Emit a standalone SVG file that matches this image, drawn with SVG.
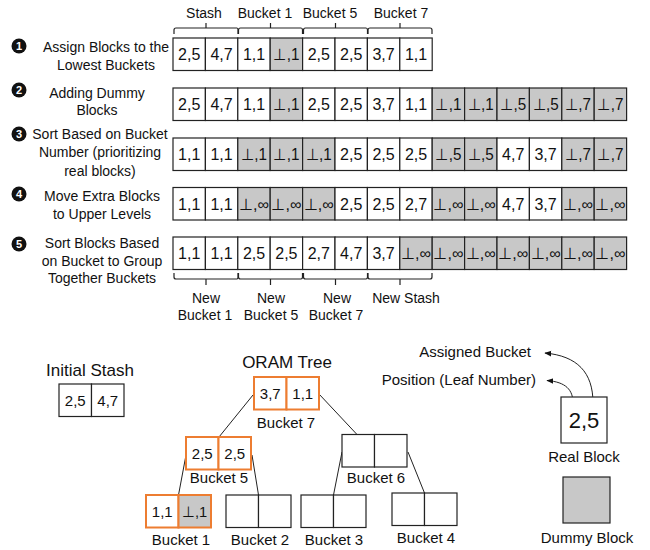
<svg xmlns="http://www.w3.org/2000/svg" width="650" height="550" viewBox="0 0 650 550">
<defs>
<style>
text{font-family:"Liberation Sans",Arial,sans-serif;fill:#111}
.c{fill:#fff;stroke:#222;stroke-width:1.2}
.g{fill:#c8c8c8;stroke:#222;stroke-width:1.2}
.o{fill:#fff;stroke:#ed7d31;stroke-width:2}
.og{fill:#c8c8c8;stroke:#ed7d31;stroke-width:2}
.t{font-size:16px;text-anchor:middle}
.tt{font-size:15px;text-anchor:middle}
.lbl{font-size:14px;text-anchor:middle}
.lb15{font-size:15px;text-anchor:middle}
.br{fill:none;stroke:#222;stroke-width:1.2}
.edge{fill:none;stroke:#222;stroke-width:1}
.num{font-size:11px;font-weight:bold;fill:#fff;text-anchor:middle}
</style>
<marker id="ah" viewBox="0 0 10 10" refX="9" refY="5" markerWidth="7" markerHeight="7" orient="auto" markerUnits="userSpaceOnUse">
<path d="M0,1 L10,5 L0,9 Z" fill="#111"/>
</marker>
</defs>

<!-- top labels and braces -->
<g id="top-braces">
<text class="lbl" x="204" y="18">Stash</text>
<text class="lbl" x="265" y="18">Bucket 1</text>
<text class="lbl" x="330" y="18">Bucket 5</text>
<text class="lbl" x="401" y="18">Bucket 7</text>
<path class="br" d="M174 34V30Q174 28 176 28H237Q238 28 238 30V34M206 28V23"/>
<path class="br" d="M238.5 34V30Q238.5 28 240.5 28H301Q302.5 28 302.5 30V34M270.5 28V23"/>
<path class="br" d="M303.5 34V30Q303.5 28 305.5 28H366Q367.5 28 367.5 30V34M335.5 28V23"/>
<path class="br" d="M368 34V30Q368 28 370 28H430Q432 28 432 30V34M400 28V23"/>
</g>

<!-- step labels -->
<g id="steps">
<circle cx="19" cy="46" r="7.5" fill="#111"/><text class="num" x="19" y="50">1</text>
<text class="lbl" x="106" y="52">Assign Blocks to the</text>
<text class="lbl" x="106" y="70">Lowest Buckets</text>
<circle cx="19" cy="90" r="7.5" fill="#111"/><text class="num" x="19" y="94">2</text>
<text class="lbl" x="97" y="98">Adding Dummy</text>
<text class="lbl" x="97" y="115">Blocks</text>
<circle cx="19" cy="134" r="7.5" fill="#111"/><text class="num" x="19" y="138">3</text>
<text class="lbl" x="100" y="138.5">Sort Based on Bucket</text>
<text class="lbl" x="100" y="157">Number (prioritizing</text>
<text class="lbl" x="100" y="175.5">real blocks)</text>
<circle cx="19" cy="194" r="7.5" fill="#111"/><text class="num" x="19" y="198">4</text>
<text class="lbl" x="102" y="201">Move Extra Blocks</text>
<text class="lbl" x="102" y="219">to Upper Levels</text>
<circle cx="19" cy="244" r="7.5" fill="#111"/><text class="num" x="19" y="248">5</text>
<text class="lbl" x="102" y="248">Sort Blocks Based</text>
<text class="lbl" x="102" y="265.5">on Bucket to Group</text>
<text class="lbl" x="102" y="283">Together Buckets</text>
</g>

<!-- row 1 -->
<g id="row1">
<rect class="c" x="173" y="38" width="32.4" height="32.5"/><text class="t" x="189.2" y="60">2,5</text>
<rect class="c" x="205.4" y="38" width="32.4" height="32.5"/><text class="t" x="221.6" y="60">4,7</text>
<rect class="c" x="237.8" y="38" width="32.4" height="32.5"/><text class="t" x="254" y="60">1,1</text>
<rect class="g" x="270.2" y="38" width="32.4" height="32.5"/><text class="t" x="286.4" y="60" textLength="26" lengthAdjust="spacingAndGlyphs">⊥,1</text>
<rect class="c" x="302.6" y="38" width="32.4" height="32.5"/><text class="t" x="318.8" y="60">2,5</text>
<rect class="c" x="335" y="38" width="32.4" height="32.5"/><text class="t" x="351.2" y="60">2,5</text>
<rect class="c" x="367.4" y="38" width="32.4" height="32.5"/><text class="t" x="383.6" y="60">3,7</text>
<rect class="c" x="399.8" y="38" width="32.4" height="32.5"/><text class="t" x="416" y="60">1,1</text>
</g>

<!-- row 2 -->
<g id="row2">
<rect class="c" x="173" y="88" width="32.4" height="32.5"/><text class="t" x="189.2" y="110">2,5</text>
<rect class="c" x="205.4" y="88" width="32.4" height="32.5"/><text class="t" x="221.6" y="110">4,7</text>
<rect class="c" x="237.8" y="88" width="32.4" height="32.5"/><text class="t" x="254" y="110">1,1</text>
<rect class="g" x="270.2" y="88" width="32.4" height="32.5"/><text class="t" x="286.4" y="110" textLength="26" lengthAdjust="spacingAndGlyphs">⊥,1</text>
<rect class="c" x="302.6" y="88" width="32.4" height="32.5"/><text class="t" x="318.8" y="110">2,5</text>
<rect class="c" x="335" y="88" width="32.4" height="32.5"/><text class="t" x="351.2" y="110">2,5</text>
<rect class="c" x="367.4" y="88" width="32.4" height="32.5"/><text class="t" x="383.6" y="110">3,7</text>
<rect class="c" x="399.8" y="88" width="32.4" height="32.5"/><text class="t" x="416" y="110">1,1</text>
<rect class="g" x="432.2" y="88" width="32.4" height="32.5"/><text class="t" x="448.4" y="110" textLength="26" lengthAdjust="spacingAndGlyphs">⊥,1</text>
<rect class="g" x="464.6" y="88" width="32.4" height="32.5"/><text class="t" x="480.8" y="110" textLength="26" lengthAdjust="spacingAndGlyphs">⊥,1</text>
<rect class="g" x="497" y="88" width="32.4" height="32.5"/><text class="t" x="513.2" y="110" textLength="26" lengthAdjust="spacingAndGlyphs">⊥,5</text>
<rect class="g" x="529.4" y="88" width="32.4" height="32.5"/><text class="t" x="545.6" y="110" textLength="26" lengthAdjust="spacingAndGlyphs">⊥,5</text>
<rect class="g" x="561.8" y="88" width="32.4" height="32.5"/><text class="t" x="578" y="110" textLength="26" lengthAdjust="spacingAndGlyphs">⊥,7</text>
<rect class="g" x="594.2" y="88" width="32.4" height="32.5"/><text class="t" x="610.4" y="110" textLength="26" lengthAdjust="spacingAndGlyphs">⊥,7</text>
</g>

<!-- row 3 -->
<g id="row3">
<rect class="c" x="173" y="138" width="32.4" height="32.5"/><text class="t" x="189.2" y="160">1,1</text>
<rect class="c" x="205.4" y="138" width="32.4" height="32.5"/><text class="t" x="221.6" y="160">1,1</text>
<rect class="g" x="237.8" y="138" width="32.4" height="32.5"/><text class="t" x="254" y="160" textLength="26" lengthAdjust="spacingAndGlyphs">⊥,1</text>
<rect class="g" x="270.2" y="138" width="32.4" height="32.5"/><text class="t" x="286.4" y="160" textLength="26" lengthAdjust="spacingAndGlyphs">⊥,1</text>
<rect class="g" x="302.6" y="138" width="32.4" height="32.5"/><text class="t" x="318.8" y="160" textLength="26" lengthAdjust="spacingAndGlyphs">⊥,1</text>
<rect class="c" x="335" y="138" width="32.4" height="32.5"/><text class="t" x="351.2" y="160">2,5</text>
<rect class="c" x="367.4" y="138" width="32.4" height="32.5"/><text class="t" x="383.6" y="160">2,5</text>
<rect class="c" x="399.8" y="138" width="32.4" height="32.5"/><text class="t" x="416" y="160">2,5</text>
<rect class="g" x="432.2" y="138" width="32.4" height="32.5"/><text class="t" x="448.4" y="160" textLength="26" lengthAdjust="spacingAndGlyphs">⊥,5</text>
<rect class="g" x="464.6" y="138" width="32.4" height="32.5"/><text class="t" x="480.8" y="160" textLength="26" lengthAdjust="spacingAndGlyphs">⊥,5</text>
<rect class="c" x="497" y="138" width="32.4" height="32.5"/><text class="t" x="513.2" y="160">4,7</text>
<rect class="c" x="529.4" y="138" width="32.4" height="32.5"/><text class="t" x="545.6" y="160">3,7</text>
<rect class="g" x="561.8" y="138" width="32.4" height="32.5"/><text class="t" x="578" y="160" textLength="26" lengthAdjust="spacingAndGlyphs">⊥,7</text>
<rect class="g" x="594.2" y="138" width="32.4" height="32.5"/><text class="t" x="610.4" y="160" textLength="26" lengthAdjust="spacingAndGlyphs">⊥,7</text>
</g>

<!-- row 4 -->
<g id="row4">
<rect class="c" x="173" y="187.5" width="32.4" height="32.5"/><text class="t" x="189.2" y="209.5">1,1</text>
<rect class="c" x="205.4" y="187.5" width="32.4" height="32.5"/><text class="t" x="221.6" y="209.5">1,1</text>
<rect class="g" x="237.8" y="187.5" width="32.4" height="32.5"/><text class="t" x="254" y="209.5" textLength="30" lengthAdjust="spacingAndGlyphs">⊥,∞</text>
<rect class="g" x="270.2" y="187.5" width="32.4" height="32.5"/><text class="t" x="286.4" y="209.5" textLength="30" lengthAdjust="spacingAndGlyphs">⊥,∞</text>
<rect class="g" x="302.6" y="187.5" width="32.4" height="32.5"/><text class="t" x="318.8" y="209.5" textLength="30" lengthAdjust="spacingAndGlyphs">⊥,∞</text>
<rect class="c" x="335" y="187.5" width="32.4" height="32.5"/><text class="t" x="351.2" y="209.5">2,5</text>
<rect class="c" x="367.4" y="187.5" width="32.4" height="32.5"/><text class="t" x="383.6" y="209.5">2,5</text>
<rect class="c" x="399.8" y="187.5" width="32.4" height="32.5"/><text class="t" x="416" y="209.5">2,7</text>
<rect class="g" x="432.2" y="187.5" width="32.4" height="32.5"/><text class="t" x="448.4" y="209.5" textLength="30" lengthAdjust="spacingAndGlyphs">⊥,∞</text>
<rect class="g" x="464.6" y="187.5" width="32.4" height="32.5"/><text class="t" x="480.8" y="209.5" textLength="30" lengthAdjust="spacingAndGlyphs">⊥,∞</text>
<rect class="c" x="497" y="187.5" width="32.4" height="32.5"/><text class="t" x="513.2" y="209.5">4,7</text>
<rect class="c" x="529.4" y="187.5" width="32.4" height="32.5"/><text class="t" x="545.6" y="209.5">3,7</text>
<rect class="g" x="561.8" y="187.5" width="32.4" height="32.5"/><text class="t" x="578" y="209.5" textLength="30" lengthAdjust="spacingAndGlyphs">⊥,∞</text>
<rect class="g" x="594.2" y="187.5" width="32.4" height="32.5"/><text class="t" x="610.4" y="209.5" textLength="30" lengthAdjust="spacingAndGlyphs">⊥,∞</text>
</g>

<!-- row 5 -->
<g id="row5">
<rect class="c" x="173" y="237" width="32.4" height="32.5"/><text class="t" x="189.2" y="259">1,1</text>
<rect class="c" x="205.4" y="237" width="32.4" height="32.5"/><text class="t" x="221.6" y="259">1,1</text>
<rect class="c" x="237.8" y="237" width="32.4" height="32.5"/><text class="t" x="254" y="259">2,5</text>
<rect class="c" x="270.2" y="237" width="32.4" height="32.5"/><text class="t" x="286.4" y="259">2,5</text>
<rect class="c" x="302.6" y="237" width="32.4" height="32.5"/><text class="t" x="318.8" y="259">2,7</text>
<rect class="c" x="335" y="237" width="32.4" height="32.5"/><text class="t" x="351.2" y="259">4,7</text>
<rect class="c" x="367.4" y="237" width="32.4" height="32.5"/><text class="t" x="383.6" y="259">3,7</text>
<rect class="g" x="399.8" y="237" width="32.4" height="32.5"/><text class="t" x="416" y="259" textLength="30" lengthAdjust="spacingAndGlyphs">⊥,∞</text>
<rect class="g" x="432.2" y="237" width="32.4" height="32.5"/><text class="t" x="448.4" y="259" textLength="30" lengthAdjust="spacingAndGlyphs">⊥,∞</text>
<rect class="g" x="464.6" y="237" width="32.4" height="32.5"/><text class="t" x="480.8" y="259" textLength="30" lengthAdjust="spacingAndGlyphs">⊥,∞</text>
<rect class="g" x="497" y="237" width="32.4" height="32.5"/><text class="t" x="513.2" y="259" textLength="30" lengthAdjust="spacingAndGlyphs">⊥,∞</text>
<rect class="g" x="529.4" y="237" width="32.4" height="32.5"/><text class="t" x="545.6" y="259" textLength="30" lengthAdjust="spacingAndGlyphs">⊥,∞</text>
<rect class="g" x="561.8" y="237" width="32.4" height="32.5"/><text class="t" x="578" y="259" textLength="30" lengthAdjust="spacingAndGlyphs">⊥,∞</text>
<rect class="g" x="594.2" y="237" width="32.4" height="32.5"/><text class="t" x="610.4" y="259" textLength="30" lengthAdjust="spacingAndGlyphs">⊥,∞</text>
</g>

<!-- bottom braces -->
<g id="bottom-braces">
<path class="br" d="M174 273V277Q174 279 176 279H237Q238 279 238 277V273M206 279V285"/>
<path class="br" d="M238.5 273V277Q238.5 279 240.5 279H301Q302.5 279 302.5 277V273M270.5 279V285"/>
<path class="br" d="M303.5 273V277Q303.5 279 305.5 279H366Q367.5 279 367.5 277V273M335.5 279V285"/>
<path class="br" d="M368 273V277Q368 279 370 279H430Q432 279 432 277V273M400 279V285"/>
<text class="lbl" x="206" y="303">New</text>
<text class="lbl" x="205" y="320">Bucket 1</text>
<text class="lbl" x="271" y="303">New</text>
<text class="lbl" x="271" y="320">Bucket 5</text>
<text class="lbl" x="337" y="303">New</text>
<text class="lbl" x="336" y="320">Bucket 7</text>
<text class="lbl" x="406" y="303">New Stash</text>
</g>

<!-- initial stash -->
<g id="initial-stash">
<text x="90" y="376" style="font-size:17px;text-anchor:middle">Initial Stash</text>
<rect class="c" x="59" y="384" width="32.5" height="32.5"/><text class="tt" x="75.25" y="405.5">2,5</text>
<rect class="c" x="91.5" y="384" width="32.5" height="32.5"/><text class="tt" x="107.75" y="405.5">4,7</text>
</g>

<text x="287" y="368" style="font-size:17px;text-anchor:middle">ORAM Tree</text>

<!-- tree connectors -->
<g id="connectors">
<line class="edge" x1="253" y1="395" x2="219" y2="437"/>
<line class="edge" x1="319" y1="394" x2="357" y2="434.5"/>
<line class="edge" x1="186" y1="455" x2="178.5" y2="495"/>
<line class="edge" x1="252" y1="455" x2="258.5" y2="495"/>
<line class="edge" x1="342" y1="452" x2="333.5" y2="495"/>
<line class="edge" x1="408" y1="452" x2="424.5" y2="493"/>
<path class="edge" d="M593 403C593 372 577 356 545 353" marker-end="url(#ah)"/>
<path class="edge" d="M573 403C573 390 566 382 547 380.5" marker-end="url(#ah)"/>
</g>

<g id="bucket7">
<rect class="o" x="254" y="377" width="32.5" height="32.5"/><text class="tt" x="270.25" y="398.5">3,7</text>
<rect class="o" x="286.5" y="377" width="32.5" height="32.5"/><text class="tt" x="302.75" y="398.5">1,1</text>
<text class="lb15" x="286" y="428">Bucket 7</text>
</g>
<g id="bucket5">
<rect class="o" x="186" y="437" width="32.5" height="32.5"/><text class="tt" x="202.25" y="458.5">2,5</text>
<rect class="o" x="218.5" y="437" width="32.5" height="32.5"/><text class="tt" x="234.75" y="458.5">2,5</text>
<text class="lb15" x="219" y="483">Bucket 5</text>
</g>
<g id="bucket6">
<rect class="c" x="342" y="434.5" width="32.5" height="32.5"/>
<rect class="c" x="374.5" y="434.5" width="32.5" height="32.5"/>
<text class="lb15" x="376" y="483">Bucket 6</text>
</g>
<g id="bucket1">
<rect class="o" x="146" y="495" width="32.5" height="32.5"/><text class="tt" x="162.25" y="516.5">1,1</text>
<rect class="og" x="178.5" y="495" width="32.5" height="32.5"/><text class="tt" x="194.75" y="516.5" textLength="25" lengthAdjust="spacingAndGlyphs">⊥,1</text>
<text class="lb15" x="181" y="545">Bucket 1</text>
</g>
<g id="bucket2">
<rect class="c" x="226" y="495" width="32.5" height="32.5"/>
<rect class="c" x="258.5" y="495" width="32.5" height="32.5"/>
<text class="lb15" x="260" y="545">Bucket 2</text>
</g>
<g id="bucket3">
<rect class="c" x="301" y="495" width="32.5" height="32.5"/>
<rect class="c" x="333.5" y="495" width="32.5" height="32.5"/>
<text class="lb15" x="334" y="545">Bucket 3</text>
</g>
<g id="bucket4">
<rect class="c" x="392" y="493" width="32.5" height="32.5"/>
<rect class="c" x="424.5" y="493" width="32.5" height="32.5"/>
<text class="lb15" x="426" y="543">Bucket 4</text>
</g>

<!-- legend -->
<g id="legend-real">
<text x="531" y="357" style="font-size:15px;text-anchor:end">Assigned Bucket</text>
<text x="536" y="385" style="font-size:15px;text-anchor:end">Position (Leaf Number)</text>
<rect class="c" x="561" y="397" width="46" height="46"/>
<text x="584" y="428" style="font-size:22px;text-anchor:middle">2,5</text>
<text class="lb15" x="584" y="462">Real Block</text>
</g>
<g id="legend-dummy">
<rect class="g" x="563" y="477" width="47" height="46"/>
<text class="lb15" x="587" y="543">Dummy Block</text>
</g>
</svg>
